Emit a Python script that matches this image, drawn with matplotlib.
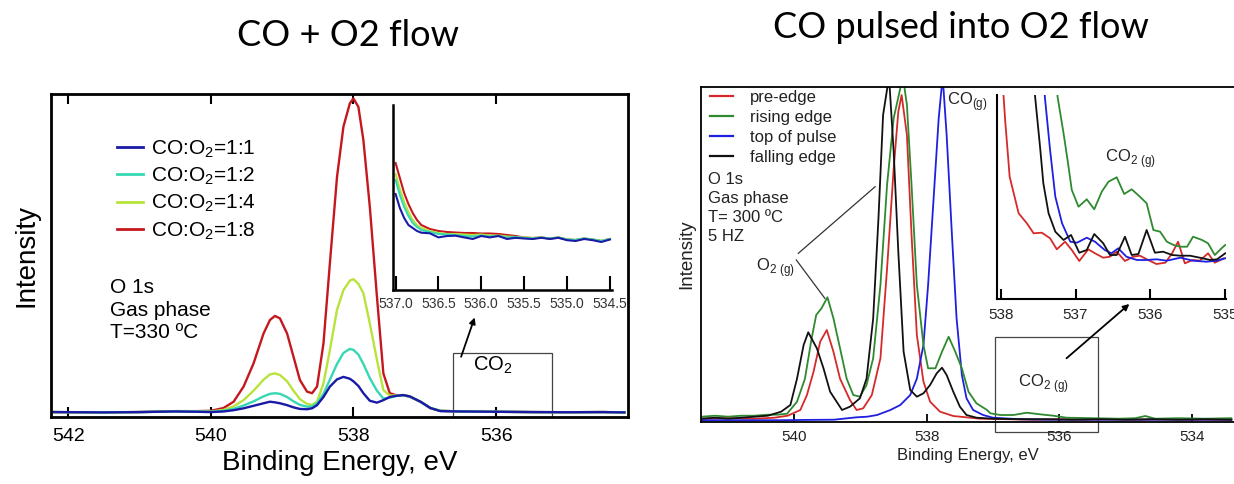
import matplotlib
matplotlib.use("Agg")
import matplotlib.pyplot as plt
from matplotlib.patches import Rectangle
from matplotlib.lines import Line2D

plt.rcParams['font.family'] = ['Liberation Sans', 'DejaVu Sans']
plt.rcParams['mathtext.fontset'] = 'custom'
plt.rcParams['mathtext.rm'] = 'Liberation Sans'

# ==============================
# LEFT PANEL DATA: CO + O2 flow
# ==============================
E_left = [542.2, 541.5, 541.0, 540.5, 540.2, 540.0, 539.82, 539.68, 539.54, 539.40,
          539.26, 539.17, 539.10, 539.03, 538.93, 538.84, 538.75, 538.65, 538.58, 538.51,
          538.42, 538.33, 538.23, 538.14, 538.05, 538.00, 537.93, 537.86, 537.77, 537.67,
          537.58, 537.49, 537.39, 537.30, 537.21, 537.06, 536.92, 536.78, 536.5, 536.0,
          535.5, 535.0, 534.5, 534.2]
left_red = [0.2, 0.1, 0.2, 0.5, 0.5, 0.6, 1.5, 3.5, 8.3, 15.7, 25.2, 29.5, 30.8, 30.0,
            25.2, 17.8, 10.4, 6.7, 6.2, 8.3, 22.0, 47.5, 75.0, 91.0, 98.4, 100.0, 97.3,
            86.7, 65.5, 36.9, 12.5, 6.2, 5.5, 5.6, 5.1, 3.5, 1.4, 0.6, 0.4, 0.3, 0.2, 0.15, 0.2, 0.1]
left_yellow = [0.2, 0.1, 0.2, 0.4, 0.4, 0.4, 0.9, 2.0, 4.0, 7.0, 10.5, 12.2, 12.5, 12.0,
               10.0, 7.0, 4.3, 2.8, 2.5, 3.5, 9.3, 19.9, 32.7, 39.0, 42.0, 42.5, 41.0,
               38.0, 28.4, 16.8, 7.2, 5.5, 5.5, 5.6, 5.1, 3.5, 1.5, 0.6, 0.4, 0.3, 0.2, 0.15, 0.2, 0.1]
left_teal = [0.2, 0.1, 0.2, 0.4, 0.4, 0.3, 0.6, 1.2, 2.3, 3.6, 5.2, 6.0, 6.2, 6.0,
             5.0, 3.6, 2.5, 1.9, 2.0, 3.0, 6.0, 10.5, 15.5, 19.0, 20.3, 20.0, 18.5,
             15.5, 11.0, 7.0, 4.5, 4.8, 5.4, 5.6, 5.1, 3.5, 1.5, 0.6, 0.4, 0.3, 0.2, 0.15, 0.2, 0.1]
left_blue = [0.2, 0.1, 0.2, 0.4, 0.3, 0.2, 0.4, 0.8, 1.4, 2.2, 3.0, 3.5, 3.3, 3.0,
             2.4, 1.7, 1.2, 1.1, 1.4, 2.4, 5.0, 8.3, 10.6, 11.4, 10.8, 10.0, 8.5,
             6.2, 3.8, 3.2, 4.0, 5.0, 5.4, 5.6, 5.2, 3.5, 1.5, 0.5, 0.4, 0.3, 0.2, 0.15, 0.2, 0.1]
left_labels = ["CO:O$_\\mathrm{2}$=1:1", "CO:O$_\\mathrm{2}$=1:2",
               "CO:O$_\\mathrm{2}$=1:4", "CO:O$_\\mathrm{2}$=1:8"]
left_colors = ["#1a1aa6", "#35d8b2", "#b8e23c", "#c4181e"]

# inset (zoom on CO2 region)
E_inset = [537.0, 536.95, 536.9, 536.85, 536.8, 536.75, 536.7, 536.6, 536.5, 536.4,
           536.3, 536.2, 536.1, 536.0, 535.9, 535.8, 535.7, 535.6, 535.5, 535.4,
           535.3, 535.2, 535.1, 535.0, 534.9, 534.8, 534.7, 534.6, 534.5]
inset_blue = [96, 82, 72, 65, 62, 59, 57.3, 56.7, 52.6, 54, 54.3, 52.6, 51, 54, 52.6,
              54, 51, 52.2, 51.5, 51, 52.2, 51, 52.2, 49.8, 49, 51, 49.8, 48, 50.5]
inset_teal = [110, 95, 83, 74, 67, 63, 60, 58, 56, 55.5, 55, 54, 53.5, 54.5, 53.5,
              54, 52.5, 53, 52, 51.5, 52.5, 51.5, 52.5, 50.5, 50, 51.5, 50.5, 49, 51]
inset_yellow = [116, 101, 88, 78, 70, 65, 62, 59, 57, 56, 56, 55.5, 55, 55.5, 54.5,
                54.5, 53.5, 53, 52.5, 52, 52.5, 51.5, 52.5, 50.5, 50, 51.5, 50.5, 49, 51]
inset_red = [127, 112, 97, 86, 77, 70, 65, 61, 59, 58, 57.5, 57, 57, 56.5, 56.5,
             56, 55, 54, 52.5, 52, 52.5, 51.5, 52.5, 50.5, 50, 51.5, 50.5, 49, 51]

# ==============================
# RIGHT PANEL DATA: CO pulsed into O2 flow
# ==============================
E_pre = [541.4, 541.0, 540.6, 540.3, 540.1, 539.91, 539.81, 539.71, 539.61, 539.51,
         539.41, 539.31, 539.16, 539.06, 538.96, 538.83, 538.70, 538.60, 538.50, 538.43,
         538.38, 538.30, 538.23, 538.15, 538.05, 537.95, 537.80, 537.60, 537.2, 536.8,
         536.4, 536.0, 535.6, 535.2, 534.8, 534.4, 534.0, 533.4]
pre_edge = [3, 3.5, 3, 4, 6, 11.7, 26.7, 50, 80, 91.7, 70, 43, 21.7, 11.7, 13.4, 26.7,
            63.4, 153, 253, 310, 326.7, 286.7, 186.7, 86.7, 40, 20, 10, 5.7, 3, 2.5,
            2, 2.5, 2, 2.5, 2, 2.5, 2, 2]

E_rise = [541.4, 541.2, 541.0, 540.8, 540.6, 540.4, 540.25, 540.11, 539.96, 539.84,
          539.74, 539.67, 539.59, 539.50, 539.41, 539.31, 539.21, 539.11, 539.01, 538.91,
          538.81, 538.70, 538.60, 538.50, 538.40, 538.36, 538.30, 538.23, 538.15, 538.05,
          537.98, 537.87, 537.77, 537.67, 537.57, 537.47, 537.37, 537.25, 537.09, 537.04,
          536.89, 536.69, 536.49, 536.29, 536.09, 535.89, 535.5, 535.1, 534.85, 534.70,
          534.55, 534.2, 533.8, 533.4]
rising_edge = [5, 6, 5, 6, 6, 7, 7, 8, 20, 43, 83, 106.7, 113.4, 124.4, 103.4, 73.4,
               43, 26.7, 25, 36.7, 63.4, 136.7, 236.7, 303.4, 333.4, 345, 316.7, 236.7,
               136.7, 76.7, 53.4, 53.4, 70, 85, 70, 53.4, 30, 18.4, 11.7, 8.4, 6.7, 6.7,
               9, 7.4, 6, 4, 3.5, 3, 3.5, 5.7, 3, 3.5, 3, 3.5]

E_top = [541.4, 540.8, 540.2, 539.8, 539.4, 539.06, 538.90, 538.75, 538.55, 538.40,
         538.25, 538.15, 538.05, 537.98, 537.90, 537.82, 537.76, 537.70, 537.62, 537.55,
         537.47, 537.40, 537.30, 537.15, 537.0, 536.6, 536.2, 535.8, 535.4, 535.0,
         534.6, 534.2, 533.8, 533.4]
top_pulse = [1.5, 1.5, 1.5, 1.8, 2, 4.4, 5, 6.7, 11.7, 16.7, 26.7, 43, 76.7, 136.7,
             220, 303.4, 345, 286.7, 186.7, 103.4, 46.7, 23.4, 11.7, 6.7, 4, 2.5, 2, 2,
             2, 2, 2, 2, 2, 2]

E_fall = [541.4, 541.2, 541.0, 540.8, 540.6, 540.4, 540.2, 540.06, 539.96, 539.86,
          539.79, 539.66, 539.56, 539.46, 539.28, 539.16, 539.01, 538.91, 538.81, 538.73,
          538.66, 538.57, 538.50, 538.43, 538.35, 538.25, 538.15, 538.05, 537.95, 537.85,
          537.77, 537.70, 537.60, 537.50, 537.40, 537.25, 537.0, 536.6, 536.2, 535.8,
          535.4, 535.0, 534.6, 534.2, 533.8, 533.4]
falling_edge = [3, 4, 3, 4, 5, 6, 10, 16.7, 43, 76.7, 89.4, 73.4, 53.4, 30, 11.7, 15,
                23.4, 43, 103, 203, 306.7, 345, 270, 170, 70, 31.7, 25, 28.4, 36.7, 48.4,
                54, 46.7, 30, 15, 6.7, 4, 3, 2.5, 2.5, 2, 2.5, 2, 2.5, 2, 2.5, 2]

right_labels = ["pre-edge", "rising edge", "top of pulse", "falling edge"]
right_colors = ["#d42a2a", "#2f8a2f", "#1f1fe0", "#111111"]

# right inset
E_pre_i = [537.985, 537.94, 537.88, 537.76, 537.65, 537.56, 537.45, 537.34, 537.25, 537.14,
           537.05, 536.95, 536.83, 536.74, 536.63, 536.54, 536.45, 536.34, 536.23, 536.14,
           536.03, 535.92, 535.80, 535.71, 535.63, 535.54, 535.43, 535.34, 535.23, 535.14, 535.02]
pre_i = [230, 179, 122.6, 86, 76, 66, 66.6, 61, 50, 57.6, 49.3, 38.3, 50, 46, 41.6,
         42.6, 47.6, 38.3, 42.6, 43.6, 39.3, 35.3, 36.6, 46, 57.6, 36, 39.3, 38.6, 46, 36.6, 41]
E_rise_i = [537.27, 537.24, 537.16, 537.10, 537.05, 536.96, 536.85, 536.75, 536.65, 536.56,
            536.45, 536.35, 536.25, 536.14, 536.05, 535.96, 535.87, 535.78, 535.69, 535.60,
            535.51, 535.43, 535.31, 535.23, 535.14, 535.05, 535.0]
rise_i = [240, 202.6, 166, 136, 109.3, 92.6, 100, 90, 107.6, 117.6, 122, 105.3, 110,
          102.6, 96, 69.3, 67.6, 57.6, 54.3, 52.6, 52.6, 62.6, 59.3, 56, 44.3, 51, 54.3]
E_top_i = [537.43, 537.41, 537.34, 537.27, 537.18, 537.07, 536.98, 536.85, 536.74, 536.61,
           536.52, 536.43, 536.32, 536.18, 536.05, 535.92, 535.78, 535.60, 535.43, 535.25,
           535.11, 535.0]
top_i = [240, 202.6, 149.3, 102.6, 76, 57.6, 56.6, 61.6, 57.6, 49.3, 46, 51, 42.6, 39.3,
         39.3, 40, 38.6, 41.6, 38.6, 37.6, 38.6, 41]
E_fall_i = [537.57, 537.54, 537.47, 537.43, 537.36, 537.27, 537.16, 537.06, 536.95, 536.85,
            536.75, 536.63, 536.54, 536.45, 536.34, 536.25, 536.16, 536.05, 535.94, 535.83,
            535.71, 535.60, 535.47, 535.34, 535.20, 535.11, 535.0]
fall_i = [240, 202.6, 149.3, 116, 86, 67.6, 59.3, 64.3, 46.6, 49.3, 65.3, 56, 44.3, 44.3,
          62.6, 44.3, 45.3, 69.3, 46.6, 47.6, 44.3, 43.6, 43.6, 41.6, 39.3, 40, 46]


W, H = 1234, 484


def fx(x):
    return x / W


def fy(y):
    return 1 - y / H


fig = plt.figure(figsize=(12.34, 4.84), dpi=100)

# ==============================
# LEFT MAIN
# ==============================
axL = fig.add_axes([fx(51), fy(416.7), fx(628) - fx(51), fy(94) - fy(416.7)])
for E_vals, c in zip([left_red, left_yellow, left_teal, left_blue], left_colors[::-1]):
    axL.plot(E_left, E_vals, color=c, lw=1.7)
axL.set_xlim(542.24, 534.15)
axL.set_ylim(-1.27, 101.4)
axL.set_xticks([542, 540, 538, 536])
axL.set_yticks([])
axL.tick_params(axis='x', direction='in', top=True, length=7, width=1.5,
                labelsize=14, pad=8)
for s in axL.spines.values():
    s.set_linewidth(2)
axL.set_xlabel("Binding Energy, eV", fontsize=20, labelpad=4)
axL.set_ylabel("Intensity", fontsize=20, labelpad=8)

handles = [Line2D([], [], color=c, lw=2) for c in left_colors]
axL.legend(handles, left_labels, loc='upper left', bbox_to_anchor=(fx(117), fy(138)),
           bbox_transform=fig.transFigure, frameon=False, fontsize=15,
           handlelength=1.25, handletextpad=0.4, labelspacing=0.28,
           borderpad=0, borderaxespad=0)

fig.text(fx(110), fy(310), "O 1s\nGas phase\nT=330 ºC", fontsize=15,
         va='center', ha='left', linespacing=1.25)
fig.text(fx(348), fy(36), "CO + O2 flow", fontsize=26, family='Lato',
         ha='center', va='center')

axL.add_patch(Rectangle((535.22, -1.27), 536.61 - 535.22, 20.4, fill=False,
                        ec='#444444', lw=0.9))
axL.text(536.05, 15.2, "CO$_\\mathrm{2}$", fontsize=14.5, ha='center', va='center')
axL.annotate("", xy=(536.30, 30.3), xytext=(536.49, 17.8),
             arrowprops=dict(arrowstyle='-|>', color='black', lw=1.3,
                             mutation_scale=9, shrinkA=0, shrinkB=0))

# LEFT INSET
axLi = fig.add_axes([fx(393), fy(290), fx(611.6) - fx(393), fy(105) - fy(290)])
axLi.patch.set_alpha(0)
for E_vals, c in zip([inset_red, inset_yellow, inset_teal, inset_blue], left_colors[::-1]):
    axLi.plot(E_inset, E_vals, color=c, lw=1.5)
axLi.set_xlim(537.03, 534.48)
axLi.set_ylim(0, 185)
axLi.set_xticks([537.0, 536.5, 536.0, 535.5, 535.0, 534.5])
axLi.set_xticklabels(["537.0", "536.5", "536.0", "535.5", "535.0", "534.5"])
axLi.set_yticks([])
axLi.spines['top'].set_visible(False)
axLi.spines['right'].set_visible(False)
axLi.spines['left'].set_linewidth(1.8)
axLi.spines['bottom'].set_linewidth(1.8)
axLi.tick_params(axis='x', direction='in', length=10, width=1.5, labelsize=10,
                 labelcolor='#333333', pad=5)

# ==============================
# RIGHT MAIN
# ==============================
axR = fig.add_axes([fx(701), fy(421.7), 1.0 - fx(701), fy(86.7) - fy(421.7)])
axR.plot(E_pre, pre_edge, color=right_colors[0], lw=1.3)
axR.plot(E_top, top_pulse, color=right_colors[2], lw=1.3)
axR.plot(E_rise, rising_edge, color=right_colors[1], lw=1.3)
axR.plot(E_fall, falling_edge, color=right_colors[3], lw=1.3)
axR.set_xlim(541.41, 533.36)
axR.set_ylim(0, 335)
axR.set_xticks([540, 538, 536, 534])
axR.set_yticks([])
axR.spines['right'].set_visible(False)
for s in ['left', 'top', 'bottom']:
    axR.spines[s].set_linewidth(1.3)
axR.tick_params(axis='x', direction='in', length=6, width=1.3, labelsize=11,
                labelcolor='#222222', pad=6)
axR.set_xlabel("Binding Energy, eV", fontsize=12, color='#222222', labelpad=3)
axR.set_ylabel("Intensity", fontsize=13.5, color='#222222', labelpad=4)

handles = [Line2D([], [], color=c, lw=1.6) for c in right_colors]
axR.legend(handles, right_labels, loc='upper left', bbox_to_anchor=(fx(710), fy(90)),
           bbox_transform=fig.transFigure, frameon=False, fontsize=12,
           handlelength=1.4, handletextpad=1.0, labelspacing=0.3,
           borderpad=0, borderaxespad=0, labelcolor='#222222')

fig.text(fx(708), fy(208), "O 1s\nGas phase\nT= 300 ºC\n5 HZ", fontsize=12,
         va='center', ha='left', linespacing=1.32, color='#222222')
fig.text(fx(961), fy(28), "CO pulsed into O2 flow", fontsize=26, family='Lato',
         ha='center', va='center')

axR.text(540.29, 153.7, "O$_\\mathrm{2\\ (g)}$", fontsize=12, ha='center', va='center',
         color='#222222')
axR.plot([539.94, 538.78], [168.4, 235], color='#333333', lw=0.9)
axR.plot([539.97, 539.54], [161.7, 123.4], color='#333333', lw=0.9)
axR.text(537.38, 320, "CO$_\\mathrm{(g)}$", fontsize=12, ha='center', va='center',
         color='#222222')

axR.add_patch(Rectangle((535.41, -10), 536.97 - 535.41, 95, fill=False,
                        ec='#444444', lw=0.9, clip_on=False))
axR.text(536.24, 38.5, "CO$_\\mathrm{2\\ (g)}$", fontsize=12, ha='center', va='center',
         color='#222222')
axR.annotate("", xy=(534.94, 117.7), xytext=(535.89, 63.4),
             arrowprops=dict(arrowstyle='-|>', color='black', lw=1.3,
                             mutation_scale=9, shrinkA=0, shrinkB=0))

# RIGHT INSET
axRi = fig.add_axes([fx(997.3), fy(299.3), fx(1226) - fx(997.3), fy(95) - fy(299.3)])
axRi.patch.set_alpha(0)
axRi.plot(E_pre_i, pre_i, color=right_colors[0], lw=1.3)
axRi.plot(E_rise_i, rise_i, color=right_colors[1], lw=1.3)
axRi.plot(E_top_i, top_i, color=right_colors[2], lw=1.3)
axRi.plot(E_fall_i, fall_i, color=right_colors[3], lw=1.3)
axRi.set_xlim(538.045, 534.99)
axRi.set_ylim(0, 204.3)
axRi.set_xticks([538, 537, 536, 535])
axRi.set_yticks([])
axRi.spines['top'].set_visible(False)
axRi.spines['right'].set_visible(False)
axRi.spines['left'].set_linewidth(1.5)
axRi.spines['bottom'].set_linewidth(1.5)
axRi.tick_params(axis='x', direction='in', length=7, width=1.5, labelsize=11,
                 labelcolor='#222222', pad=6)
axRi.text(536.27, 141, "CO$_\\mathrm{2\\ (g)}$", fontsize=12, ha='center', va='center',
          color='#222222')

fig.savefig("out.png", dpi=100, facecolor='white')
